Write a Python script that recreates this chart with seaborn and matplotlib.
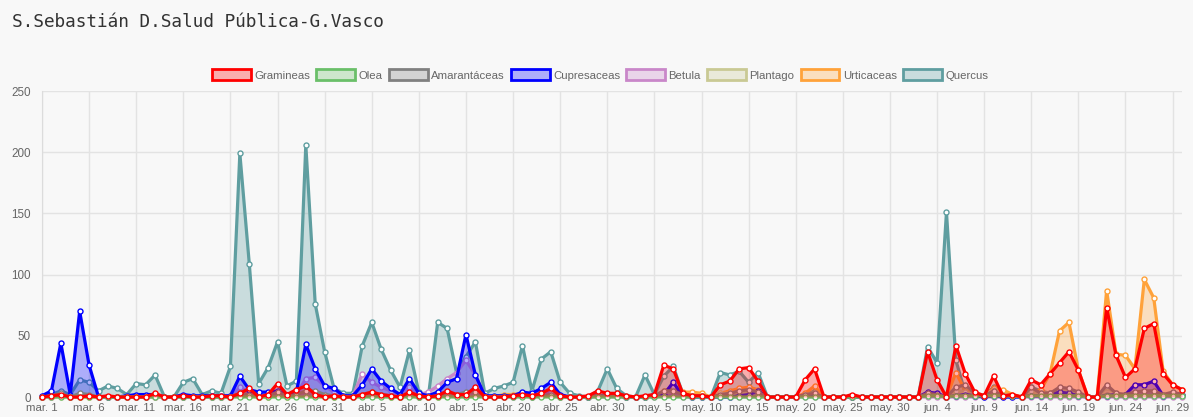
import numpy as np
import pandas as pd
import matplotlib
matplotlib.use('Agg')
import matplotlib.pyplot as plt
from matplotlib.patches import Patch
import seaborn as sns

# Daily pollen counts, 1 March - 30 June (122 days)
gramineas = [0, 1, 2, 0, 0, 1, 0, 1, 0, 0, 0, 0, 3, 0, 0, 1, 0, 0, 1, 1,
             0, 3, 7, 0, 2, 11, 2, 6, 9, 2, 0, 1, 0, 0, 2, 4, 2, 1, 0, 4,
             1, 0, 1, 5, 2, 2, 8, 0, 0, 0, 1, 2, 1, 3, 7, 1, 0, 0, 1, 5,
             3, 3, 1, 0, 1, 2, 26, 23, 3, 1, 1, 0, 10, 13, 23, 24, 13, 0, 0, 0,
             0, 14, 23, 0, 0, 0, 2, 0, 0, 0, 0, 0, 0, 0, 37, 14, 0, 42, 19, 4,
             1, 17, 1, 2, 0, 14, 10, 19, 28, 37, 22, 0, 0, 73, 34, 16, 23, 56, 60, 19,
             10, 6]
olea = [0] * 90 + [0, 0, 0, 0, 1, 1, 0, 1, 1, 1, 1, 1, 1, 1, 0, 1, 1, 1, 1, 1,
                   1, 0, 0, 1, 1, 1, 1, 1, 1, 1, 1, 1]
amarantaceas = [0, 1, 3, 0, 3, 2, 0, 0, 0, 0, 0, 0, 1, 0, 0, 0, 0, 0, 0, 0,
                0, 3, 2, 0, 1, 4, 1, 2, 5, 5, 2, 1, 0, 0, 2, 4, 2, 1, 0, 1,
                0, 0, 1, 3, 2, 4, 4, 0, 0, 0, 1, 1, 0, 1, 2, 0, 0, 0, 0, 1,
                1, 1, 0, 0, 0, 1, 5, 5, 2, 1, 1, 0, 2, 3, 5, 6, 4, 0, 0, 0,
                0, 2, 3, 0, 0, 0, 0, 0, 0, 0, 0, 0, 0, 0, 3, 2, 0, 8, 10, 3,
                1, 5, 1, 1, 0, 8, 3, 3, 8, 7, 4, 0, 0, 10, 3, 2, 4, 5, 5, 2,
                4, 2]
cupresaceas = [1, 5, 44, 2, 70, 26, 0, 0, 0, 1, 2, 2, 2, 0, 0, 2, 1, 1, 1, 1,
               1, 17, 6, 4, 4, 5, 2, 4, 43, 23, 9, 7, 1, 1, 10, 23, 13, 7, 2, 15,
               3, 1, 4, 12, 15, 51, 18, 1, 1, 1, 1, 4, 3, 7, 12, 2, 0, 0, 0, 1,
               1, 1, 0, 0, 0, 2, 2, 12, 1, 0, 0, 0, 0, 0, 1, 2, 5, 0, 0, 0,
               0, 1, 1, 0, 0, 0, 0, 0, 0, 0, 0, 0, 0, 0, 4, 3, 0, 1, 2, 1,
               0, 1, 0, 0, 0, 1, 1, 2, 4, 3, 1, 0, 0, 1, 2, 2, 10, 10, 13, 1,
               3, 2]
betula = [0, 0, 1, 0, 1, 1, 0, 0, 0, 0, 0, 0, 0, 0, 0, 0, 0, 0, 0, 0,
          0, 8, 4, 1, 1, 3, 1, 2, 15, 16, 9, 4, 1, 1, 19, 12, 8, 5, 2, 8,
          2, 4, 9, 15, 20, 30, 18, 1, 0, 0, 0, 1, 1, 3, 4, 1, 0, 0, 0, 0,
          0, 0, 0, 0, 0, 0, 1, 1, 0, 0, 0, 0, 0, 0, 0, 0, 0, 0, 0, 0,
          0, 0, 0, 0, 0, 0, 0, 0, 0, 0, 0, 0, 0, 0, 0, 0, 0, 0, 0, 0,
          0, 0, 0, 0, 0, 0, 0, 0, 0, 0, 0, 0, 0, 0, 0, 0, 0, 0, 0, 0,
          0, 0]
plantago = [0, 0, 0, 0, 0, 0, 0, 0, 0, 0, 0, 0, 0, 0, 0, 0, 0, 0, 0, 0,
            0, 1, 1, 0, 0, 1, 0, 1, 1, 1, 0, 0, 0, 0, 1, 1, 1, 0, 0, 1,
            0, 0, 0, 1, 1, 1, 1, 0, 0, 0, 0, 1, 0, 1, 1, 0, 0, 0, 0, 1,
            1, 1, 0, 0, 0, 1, 5, 4, 2, 1, 1, 0, 3, 3, 3, 4, 3, 0, 0, 0,
            0, 2, 3, 0, 0, 0, 0, 0, 0, 0, 0, 0, 0, 0, 2, 1, 0, 5, 4, 2,
            1, 6, 2, 1, 0, 5, 3, 3, 5, 5, 3, 0, 0, 8, 3, 2, 3, 4, 4, 2,
            2, 1]
urticaceas = [0, 0, 1, 0, 0, 0, 0, 0, 0, 0, 0, 0, 0, 0, 0, 0, 0, 0, 0, 0,
              0, 1, 1, 0, 0, 2, 0, 1, 2, 1, 0, 0, 0, 0, 1, 2, 1, 0, 0, 1,
              0, 0, 0, 2, 2, 2, 2, 0, 0, 2, 2, 3, 1, 2, 2, 0, 0, 0, 0, 1,
              1, 1, 0, 0, 0, 1, 5, 8, 4, 4, 3, 0, 3, 5, 7, 8, 6, 0, 0, 0,
              0, 3, 9, 0, 0, 0, 0, 0, 0, 0, 0, 0, 0, 0, 3, 2, 0, 20, 5, 3,
              1, 7, 6, 2, 0, 4, 6, 19, 54, 61, 22, 0, 0, 87, 35, 34, 23, 96, 81, 21,
              10, 6]
quercus = [0, 2, 5, 2, 14, 12, 5, 9, 7, 2, 11, 10, 18, 0, 0, 12, 15, 2, 5, 3,
           25, 199, 109, 11, 24, 45, 9, 13, 206, 76, 37, 7, 3, 3, 42, 61, 39, 22, 8, 38,
           4, 0, 61, 56, 20, 33, 45, 3, 7, 9, 12, 42, 5, 31, 37, 12, 3, 1, 0, 5,
           23, 7, 1, 0, 18, 2, 17, 25, 3, 1, 1, 0, 20, 18, 21, 12, 20, 0, 0, 0,
           0, 2, 5, 0, 0, 0, 0, 0, 0, 0, 0, 0, 0, 0, 41, 28, 151, 30, 3, 2,
           1, 8, 2, 1, 0, 8, 5, 3, 4, 3, 2, 0, 0, 2, 1, 1, 1, 2, 2, 1,
           1, 1]

series_names = ['Gramineas', 'Olea', 'Amarantáceas', 'Cupresaceas',
                'Betula', 'Plantago', 'Urticaceas', 'Quercus']
series_values = [gramineas, olea, amarantaceas, cupresaceas,
                 betula, plantago, urticaceas, quercus]
series_colors = ['#ff0000', '#6abf69', '#808080', '#0000ff',
                 '#c987c9', '#c9c994', '#ffa23a', '#5f9ea0']

dates = pd.date_range('2020-03-01', '2020-06-30', freq='D')
meses = {3: 'mar.', 4: 'abr.', 5: 'may.', 6: 'jun.'}
tick_pos = list(range(0, len(dates), 5))
tick_labels = [f'{meses[dates[i].month]} {dates[i].day}' for i in tick_pos]

sns.set_style('white')
plt.rcParams['font.family'] = ['Liberation Sans', 'DejaVu Sans']

bg = '#f8f8f8'
fig = plt.figure(figsize=(11.93, 4.17), dpi=100, facecolor=bg)
ax = fig.add_axes([42 / 1193, 20 / 417, 1140 / 1193, 306 / 417])
ax.set_facecolor(bg)

days = np.arange(len(dates))
n = len(series_names)
for k, (name, vals, col) in enumerate(zip(series_names, series_values, series_colors)):
    z = 2 * (n - k)
    ax.fill_between(days, vals, 0, color=col, alpha=0.3, lw=0, zorder=z)
    sns.lineplot(x=days, y=vals, ax=ax, color=col, lw=2.3, marker='o',
                 markersize=3.6, markerfacecolor='white', markeredgecolor=col,
                 markeredgewidth=1.0, zorder=z + 1, clip_on=False, legend=False)

ax.set_xlim(0, len(dates) - 1)
ax.set_ylim(0, 250)
ax.set_yticks([0, 50, 100, 150, 200, 250])
ax.set_xticks(tick_pos)
ax.set_xticklabels(tick_labels)
ax.set_xlabel('')
ax.set_ylabel('')
ax.grid(True, color='#e3e3e3', lw=1)
ax.set_axisbelow(True)
for s in ['top', 'right']:
    ax.spines[s].set_visible(False)
for s in ['left', 'bottom']:
    ax.spines[s].set_color('#dcdcdc')
ax.tick_params(axis='y', colors='#dcdcdc', labelcolor='#666666',
               labelsize=8.4, length=6, width=1, pad=2)
ax.tick_params(axis='x', colors='#dcdcdc', labelcolor='#666666',
               labelsize=8.2, length=3, width=1, pad=1)

handles = [Patch(facecolor=matplotlib.colors.to_rgba(c, 0.3), edgecolor=c, lw=2)
           for c in series_colors]
fig.legend(handles, series_names, loc='center', bbox_to_anchor=(0.503, 1 - 75 / 417),
           ncol=8, frameon=False, fontsize=8.2, labelcolor='#666666',
           handlelength=3.4, handleheight=1.1, handletextpad=0.3, columnspacing=0.55)

fig.text(12 / 1193, 1 - 22 / 417, 'S.Sebastián D.Salud Pública-G.Vasco',
         family='DejaVu Sans Mono', fontsize=12.8, color='#333333', va='center')

fig.savefig('out.png', dpi=100, facecolor=bg)
